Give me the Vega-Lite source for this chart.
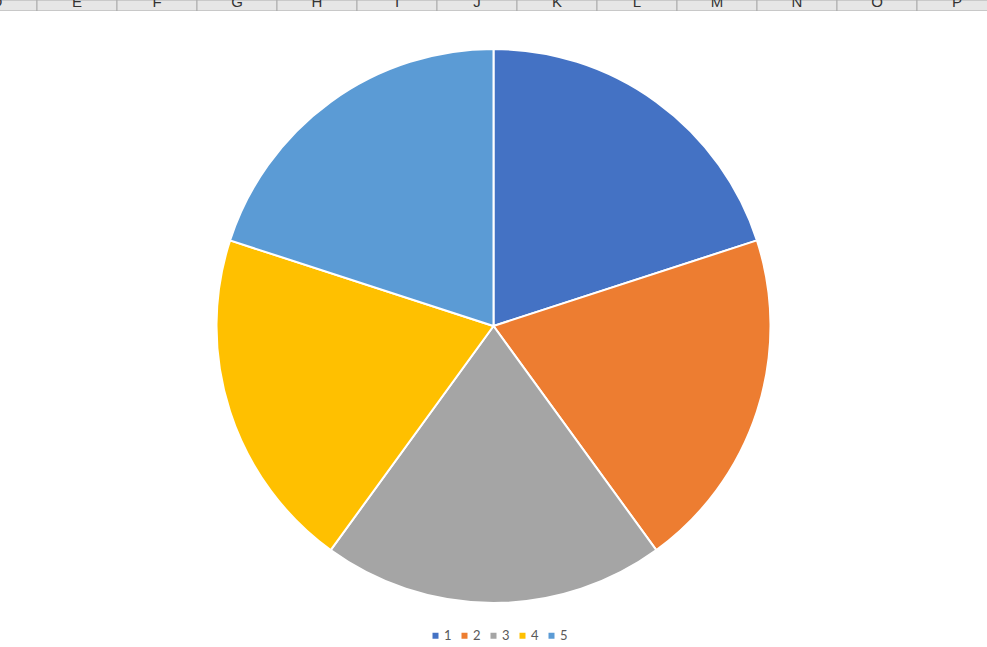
{
  "$schema": "https://vega.github.io/schema/vega-lite/v6.json",
  "padding": 0,
  "spacing": 0,
  "background": "white",
  "config": {"view": {"stroke": null}, "font": "Lato"},
  "datasets": {
    "cols": [
      {"col": "D"}, {"col": "E"}, {"col": "F"}, {"col": "G"}, {"col": "H"}, {"col": "I"}, {"col": "J"},
      {"col": "K"}, {"col": "L"}, {"col": "M"}, {"col": "N"}, {"col": "O"}, {"col": "P"}
    ],
    "pie": [
      {"category": "1", "value": 20},
      {"category": "2", "value": 20},
      {"category": "3", "value": 20},
      {"category": "4", "value": 20},
      {"category": "5", "value": 20}
    ]
  },
  "vconcat": [
    {
      "width": 987,
      "height": 11,
      "data": {"name": "cols"},
      "layer": [
        {
          "mark": {"type": "rect", "fill": "#E6E6E6", "stroke": "#ABABAB", "strokeWidth": 1, "clip": true},
          "encoding": {
            "x": {"field": "col", "type": "nominal", "axis": null,
                  "scale": {"range": [-43, 997], "paddingInner": 0, "paddingOuter": 0}}
          }
        },
        {
          "mark": {"type": "text", "fontSize": 15, "font": "Liberation Sans", "color": "#333333", "baseline": "alphabetic", "dy": 1, "clip": true},
          "encoding": {
            "x": {"field": "col", "type": "nominal", "axis": null},
            "text": {"field": "col"}
          }
        }
      ]
    },
    {
      "width": 987,
      "height": 630,
      "data": {"name": "pie"},
      "mark": {"type": "arc", "outerRadius": 277, "stroke": "white", "strokeWidth": 2},
      "encoding": {
        "theta": {"field": "value", "type": "quantitative", "stack": true},
        "order": {"field": "category", "type": "ordinal"},
        "color": {
          "field": "category", "type": "nominal",
          "scale": {"domain": ["1", "2", "3", "4", "5"], "range": ["#4472C4", "#ED7D31", "#A5A5A5", "#FFC000", "#5B9BD5"]},
          "legend": {
            "orient": "none", "direction": "horizontal", "title": null,
            "legendX": 429, "legendY": 629,
            "symbolType": "square", "symbolSize": 36, "symbolStrokeWidth": 0,
            "labelFontSize": 13, "labelColor": "#595959", "labelFont": "Lato",
            "labelOffset": 2, "columnPadding": 6
          }
        }
      }
    }
  ]
}
